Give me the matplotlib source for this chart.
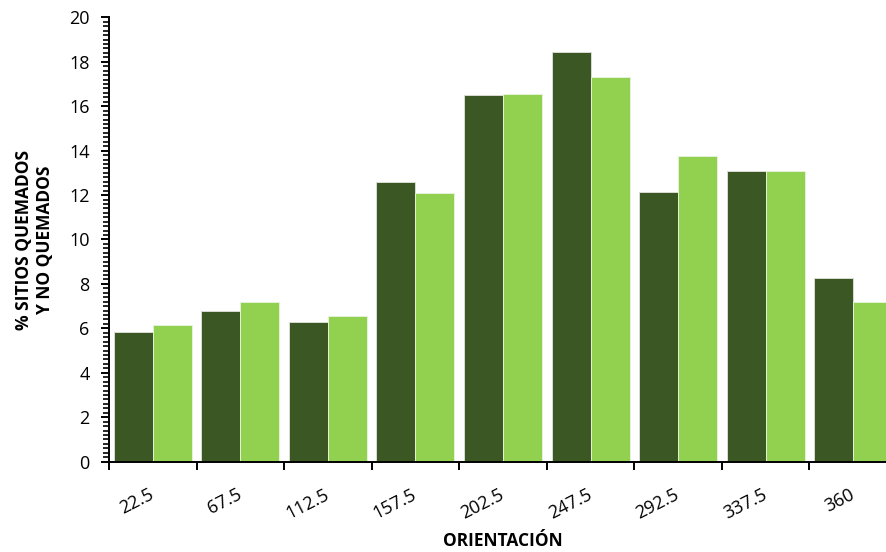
import numpy as np
import matplotlib.pyplot as plt
from matplotlib.ticker import MultipleLocator

plt.rcParams['font.family'] = ['Open Sans', 'DejaVu Sans']

# orientation classes (degrees) and % of sites per class
orientacion = ["22.5", "67.5", "112.5", "157.5", "202.5", "247.5", "292.5", "337.5", "360"]
quemados = [5.82, 6.80, 6.30, 12.60, 16.49, 18.42, 12.12, 13.10, 8.25]
no_quemados = [6.15, 7.19, 6.54, 12.08, 16.56, 17.33, 13.74, 13.10, 7.19]

x = np.arange(len(orientacion))
w = 0.445

fig = plt.figure(figsize=(8.86, 5.52), dpi=100)
ax = fig.add_axes([109/886, 1-461.7/552, 788/886, 444.4/552])

ax.bar(x - w/2, quemados, w, color="#3a5724", edgecolor="#d8dcd4", linewidth=0.7)
ax.bar(x + w/2, no_quemados, w, color="#92d050", edgecolor="#e4f2d8", linewidth=0.7)

ax.set_xlim(-0.5, len(x) - 0.5)
ax.set_ylim(0, 20)

# y axis: labelled every 2, small ticks every 0.2
ax.yaxis.set_major_locator(MultipleLocator(2))
ax.yaxis.set_minor_locator(MultipleLocator(0.2))
ax.tick_params(axis="y", which="major", length=6, width=1.4, labelsize=13, pad=8)
ax.tick_params(axis="y", which="minor", length=4.5, width=1.2)

# x axis: ticks between groups, labels at group centres
ax.set_xticks(np.arange(len(x) + 1) - 0.5)
ax.set_xticklabels([])
ax.set_xticks(x, minor=True)
ax.set_xticklabels(orientacion, minor=True, rotation=27, ha="right",
                   va="center", rotation_mode="anchor")
ax.tick_params(axis="x", which="major", length=6, width=1.4)
ax.tick_params(axis="x", which="minor", length=0, labelsize=13, pad=23)

for s in ["top", "right"]:
    ax.spines[s].set_visible(False)
ax.spines["left"].set_linewidth(1.4)
ax.spines["bottom"].set_linewidth(1.4)

ax.set_xlabel("ORIENTACIÓN", fontsize=12.5, fontweight="bold", labelpad=7)
ax.set_ylabel("% SITIOS QUEMADOS\nY NO QUEMADOS", fontsize=12.5, fontweight="bold",
              labelpad=11, linespacing=1.2)

fig.savefig("out.png", dpi=100)
